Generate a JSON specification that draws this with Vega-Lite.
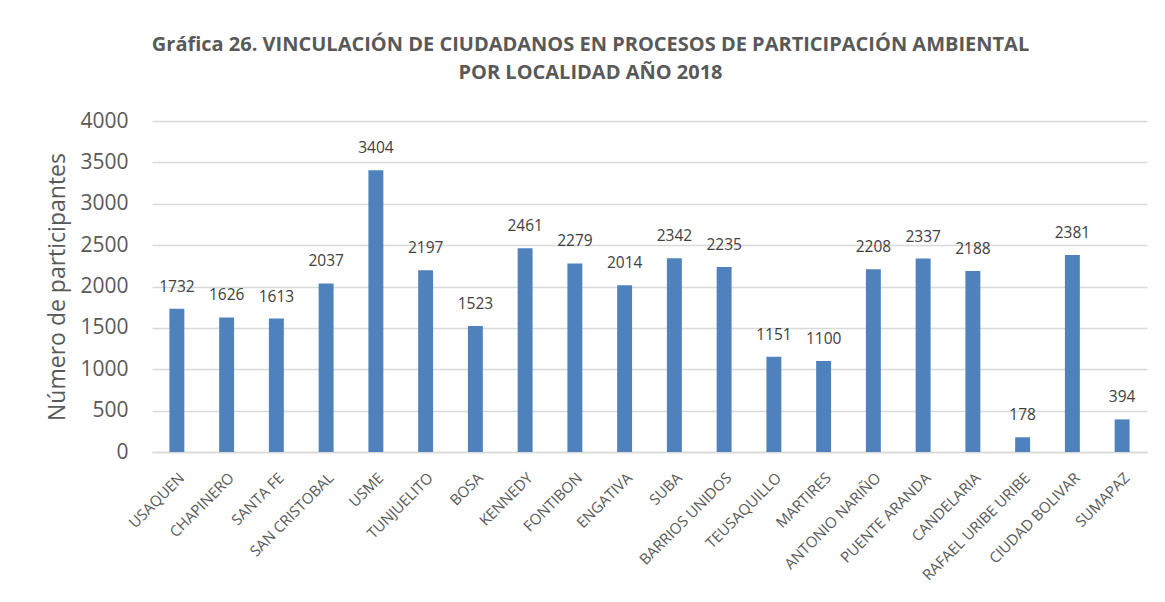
{
  "$schema": "https://vega.github.io/schema/vega-lite/v6.json",
  "width": 995,
  "height": 331,
  "autosize": {"type": "none"},
  "padding": {"left": 152, "top": 121, "right": 18, "bottom": 150},
  "background": "white",
  "config": {
    "view": {"stroke": null},
    "font": "Open Sans"
  },
  "title": {
    "text": ["Gráfica 26. VINCULACIÓN DE CIUDADANOS EN PROCESOS DE PARTICIPACIÓN AMBIENTAL", "POR LOCALIDAD AÑO 2018"],
    "font": "Open Sans",
    "fontSize": 20,
    "fontWeight": "bold",
    "color": "#595959",
    "anchor": "middle",
    "frame": "group",
    "dx": -59,
    "offset": 27,
    "lineHeight": 28
  },
  "data": {
    "values": [
      {"localidad": "USAQUEN", "participantes": 1732},
      {"localidad": "CHAPINERO", "participantes": 1626},
      {"localidad": "SANTA FE", "participantes": 1613},
      {"localidad": "SAN CRISTOBAL", "participantes": 2037},
      {"localidad": "USME", "participantes": 3404},
      {"localidad": "TUNJUELITO", "participantes": 2197},
      {"localidad": "BOSA", "participantes": 1523},
      {"localidad": "KENNEDY", "participantes": 2461},
      {"localidad": "FONTIBON", "participantes": 2279},
      {"localidad": "ENGATIVA", "participantes": 2014},
      {"localidad": "SUBA", "participantes": 2342},
      {"localidad": "BARRIOS UNIDOS", "participantes": 2235},
      {"localidad": "TEUSAQUILLO", "participantes": 1151},
      {"localidad": "MARTIRES", "participantes": 1100},
      {"localidad": "ANTONIO NARIÑO", "participantes": 2208},
      {"localidad": "PUENTE ARANDA", "participantes": 2337},
      {"localidad": "CANDELARIA", "participantes": 2188},
      {"localidad": "RAFAEL URIBE URIBE", "participantes": 178},
      {"localidad": "CIUDAD BOLIVAR", "participantes": 2381},
      {"localidad": "SUMAPAZ", "participantes": 394}
    ]
  },
  "encoding": {
    "x": {
      "field": "localidad",
      "type": "nominal",
      "sort": null,
      "title": null,
      "scale": {"paddingInner": 0.7, "paddingOuter": 0.35},
      "axis": {
        "labelAngle": -45,
        "labelFontSize": 15,
        "labelColor": "#595959",
        "labelFont": "Open Sans",
        "ticks": false,
        "domainColor": "#d9d9d9",
        "domainWidth": 1.5,
        "labelPadding": 18
      }
    },
    "y": {
      "field": "participantes",
      "type": "quantitative",
      "title": "Número de participantes",
      "scale": {"domain": [0, 4000]},
      "axis": {
        "values": [0, 500, 1000, 1500, 2000, 2500, 3000, 3500, 4000],
        "format": "d",
        "labelFontSize": 21,
        "labelColor": "#595959",
        "titleFontSize": 23,
        "titleFontWeight": "normal",
        "titleColor": "#595959",
        "titlePadding": 10,
        "domain": false,
        "ticks": false,
        "gridColor": "#d9d9d9",
        "gridWidth": 1.5,
        "labelPadding": 24
      }
    }
  },
  "layer": [
    {"mark": {"type": "bar", "color": "#4F81BD"}},
    {
      "mark": {"type": "text", "dy": -22, "fontSize": 15.5, "color": "#404040", "font": "Open Sans"},
      "encoding": {"text": {"field": "participantes", "type": "quantitative", "format": "d"}}
    }
  ]
}
